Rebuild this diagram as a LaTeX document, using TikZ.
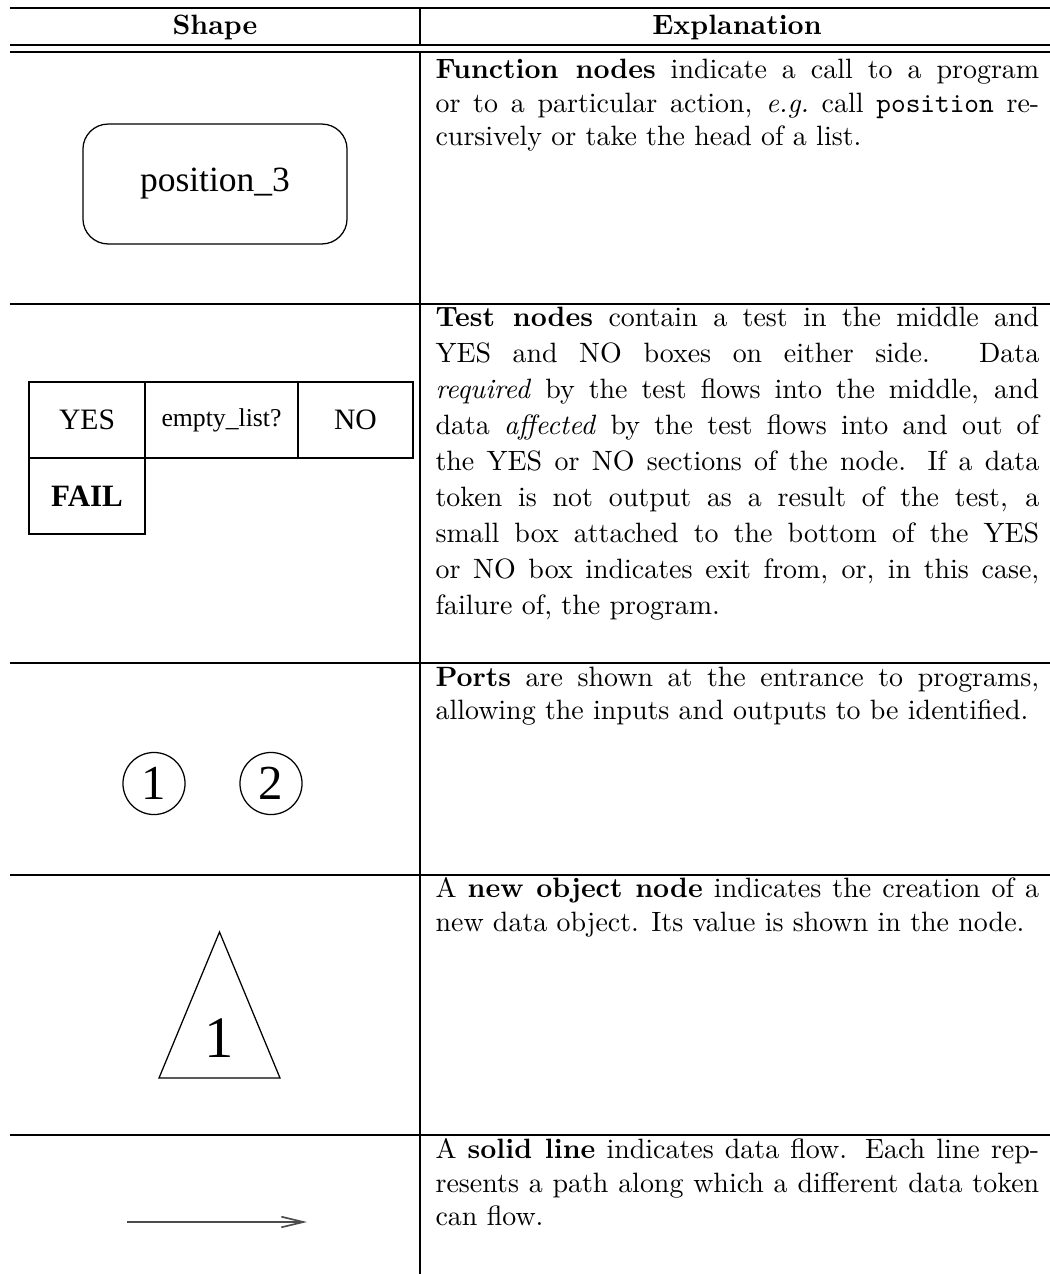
\documentclass[tikz,border=0pt]{standalone}
\usepackage{fontspec}
\newfontfamily\figfont{Liberation Serif}
\usetikzlibrary{arrows.meta}
\tolerance=10000
\hbadness=10000
\begin{document}
\begin{tikzpicture}[x=0.3578pt,y=-0.3578pt,
  tablerule/.style={line width=1pt},
  headtext/.style={anchor=base,inner sep=0pt,font=\bfseries},
  explain/.style={anchor=base west,inner sep=0pt,text width=216pt,align=justify,
    font=\fontsize{10pt}{12pt}\selectfont},
  shapeline/.style={draw,line width=0.45pt,inner sep=0pt},
  testcell/.style={shapeline,rectangle,minimum height=27.2pt},
  port/.style={shapeline,circle,minimum size=22.2pt,font=\figfont\fontsize{17.5pt}{20pt}\selectfont},
  flow/.style={draw=black!70,line width=0.6pt,-{Straight Barb[length=7.9pt,width=3.8pt]}}]
\useasboundingbox (0,0) rectangle (1050,1274);

% table rules
\foreach \y in {8,45,52,304,663,875,1135}
  \draw[tablerule] (10,\y) -- (1050,\y);
\draw[tablerule] (420,8) -- (420,45);
\draw[tablerule] (420,52) -- (420,1274);

% header
\node[headtext] (hshape) at (215,34) {Shape};
\node[headtext] (hexpl) at (737,34) {Explanation};

% function node
\node[shapeline,rounded corners=9pt,minimum width=94.5pt,minimum height=42.9pt,
  font=\figfont\fontsize{12.7pt}{15pt}\selectfont] (fn) at (215,184) {position\_3};
\node[explain] (t1) at (435,78.5) {\textbf{Function nodes} indicate a call to a program\linebreak
  or to a particular action, \textit{e.g.}\ call \texttt{position} re-\linebreak
  cursively or take the head of a list.};

% test node
\node[testcell,minimum width=41.5pt,font=\figfont\fontsize{10.6pt}{13pt}\selectfont] (yes) at (87,420) {YES};
\node[testcell,minimum width=54.7pt,font=\figfont\fontsize{9.2pt}{11pt}\selectfont] (test) at (221.5,420) {empty\_list?};
\node[testcell,minimum width=41.1pt,font=\figfont\fontsize{10.6pt}{13pt}\selectfont] (no) at (355.5,420) {NO};
\node[testcell,minimum width=41.5pt,font=\figfont\bfseries\fontsize{11.1pt}{13pt}\selectfont] (fail) at (87,496) {FAIL};
\node[explain,font=\fontsize{10pt}{12.9pt}\selectfont] (t2) at (435,326) {\textbf{Test nodes} contain a test in the middle and\linebreak
  YES and NO boxes on either side. Data\linebreak
  \textit{required} by the test flows into the middle, and\linebreak
  data \textit{affected} by the test flows into and out of\linebreak
  the YES or NO sections of the node. If a data\linebreak
  token is not output as a result of the test, a\linebreak
  small box attached to the bottom of the YES\linebreak
  or NO box indicates exit from, or, in this case,\linebreak
  failure of, the program.};

% ports
\node[port] (p1) at (154,783.5) {1};
\node[port] (p2) at (271,783.5) {2};
\node[explain] (t3) at (435,686) {\textbf{Ports} are shown at the entrance to programs,\linebreak
  allowing the inputs and outputs to be identified.};

% new object node
\coordinate (triL) at (159,1078);
\coordinate (triR) at (280,1078);
\coordinate (triT) at (219.5,932);
\draw[line width=0.45pt,line join=miter] (triL) -- (triR) -- (triT) -- cycle;
\node[inner sep=0pt,font=\figfont\fontsize{21pt}{24pt}\selectfont] (obj) at (219.5,1038) {1};
\node[explain] (t4) at (435,897.5) {A \textbf{new object node} indicates the creation of a\linebreak
  new data object. Its value is shown in the node.};

% data flow line
\coordinate (fa) at (127,1222);
\coordinate (fb) at (307,1222);
\draw[flow] (fa) -- (fb);
\node[explain] (t5) at (435,1158.5) {A \textbf{solid line} indicates data flow. Each line rep-\linebreak
  resents a path along which a different data token\linebreak
  can flow.};
\end{tikzpicture}
\end{document}
